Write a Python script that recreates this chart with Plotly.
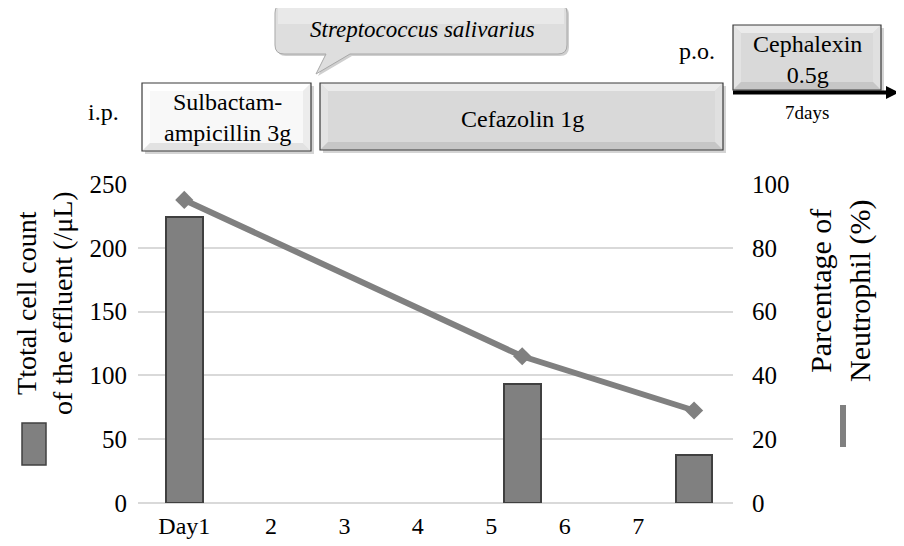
import plotly.graph_objects as go

# ---------------- data ----------------
days = [0.82, 5.42, 7.76]                 # measurement positions on the day axis
cell_count = [224, 93, 38]                # total cell count of the effluent (/uL)
neutrophil = [95, 46, 29]                 # percentage of neutrophil (%)
tick_days = [days[0], 2, 3, 4, 5, 6, 7]
tick_text = ["Day1", "2", "3", "4", "5", "6", "7"]
left_ticks = [0, 50, 100, 150, 200, 250]
right_ticks = [0, 20, 40, 60, 80, 100]

W, H = 904, 546
OFF = 8  # page body margin of the html page
FONT = "Liberation Serif"


def X(p):
    return (p - OFF) / W


def Y(p):
    return 1 - (p - OFF) / H


fig = go.Figure()
fig.add_bar(
    x=days, y=cell_count, width=0.5, yaxis="y",
    marker=dict(color="#808080", line=dict(color="#404040", width=2)),
)
fig.add_scatter(
    x=days, y=neutrophil, yaxis="y2", mode="lines+markers",
    line=dict(color="#808080", width=6),
    marker=dict(symbol="diamond", size=14, color="#808080"),
)

shapes = []


def rect(x0, y0, x1, y1, fill, line_color=None, lw=0):
    shapes.append(dict(
        type="rect", xref="paper", yref="paper",
        x0=X(x0), x1=X(x1), y0=Y(y1), y1=Y(y0),
        fillcolor=fill, line=dict(color=line_color or fill, width=lw),
        layer="above",
    ))


def poly(pts, fill):
    d = "M " + " L ".join(f"{X(a):.5f},{Y(b):.5f}" for a, b in pts) + " Z"
    shapes.append(dict(type="path", xref="paper", yref="paper", path=d,
                       fillcolor=fill, line=dict(width=0), layer="above"))


def bevel_box(x0, y0, x1, y1, base, light, lighter, dark, darker, inset=8):
    rect(x0 + 3, y0 + 3, x1 + 3, y1 + 3, "#d4d4d4")
    rect(x0, y0, x1, y1, base)
    i = inset
    poly([(x0, y0), (x1, y0), (x1 - i, y0 + i), (x0 + i, y0 + i)], lighter)
    poly([(x0, y0), (x0 + i, y0 + i), (x0 + i, y1 - i), (x0, y1)], light)
    poly([(x1, y0), (x1, y1), (x1 - i, y1 - i), (x1 - i, y0 + i)], dark)
    poly([(x0, y1), (x0 + i, y1 - i), (x1 - i, y1 - i), (x1, y1)], darker)
    shapes.append(dict(type="rect", xref="paper", yref="paper",
                       x0=X(x0), x1=X(x1), y0=Y(y1), y1=Y(y0),
                       fillcolor="rgba(0,0,0,0)",
                       line=dict(color="#3a3a3a", width=1.2), layer="above"))


# treatment boxes
bevel_box(142, 83, 311, 151, "#f8f8f8", "#fdfdfd", "#ffffff", "#ececec", "#e2e2e2")
bevel_box(320, 83, 723, 150, "#d9d9d9", "#e3e3e3", "#ebebeb", "#e0e0e0", "#c6c6c6")
bevel_box(733, 25, 881, 90, "#d9d9d9", "#e3e3e3", "#ebebeb", "#e0e0e0", "#c6c6c6")


def callout_path(x0, y0, x1, y1, r, dx=0, dy=0):
    pts = [
        (x0 + r, y0), (x1 - r, y0), ("Q", x1, y0, x1, y0 + r), (x1, y1 - r),
        ("Q", x1, y1, x1 - r, y1), (350, y1), (316, 74), (326, y1), (x0 + r, y1),
        ("Q", x0, y1, x0, y1 - r), (x0, y0 + r), ("Q", x0, y0, x0 + r, y0),
    ]
    parts = []
    for k, p in enumerate(pts):
        if p[0] == "Q":
            parts.append(f"Q {X(p[1] + dx):.5f},{Y(p[2] + dy):.5f} "
                         f"{X(p[3] + dx):.5f},{Y(p[4] + dy):.5f}")
        else:
            parts.append(("M " if k == 0 else "L ")
                         + f"{X(p[0] + dx):.5f},{Y(p[1] + dy):.5f}")
    return " ".join(parts) + " Z"


shapes.append(dict(type="path", xref="paper", yref="paper",
                   path=callout_path(275, 4, 567, 54, 9, 2, 2),
                   fillcolor="#cfcfcf", line=dict(width=0), layer="above"))
shapes.append(dict(type="path", xref="paper", yref="paper",
                   path=callout_path(275, 4, 567, 54, 9),
                   fillcolor="#dedede", line=dict(color="#a8a8a8", width=1),
                   layer="above"))
# light upper band of the callout gradient
shapes.append(dict(type="rect", xref="paper", yref="paper",
                   x0=X(278), x1=X(564), y0=Y(24), y1=Y(6),
                   fillcolor="rgba(255,255,255,0.35)", line=dict(width=0),
                   layer="above"))

# arrow for oral therapy
shapes.append(dict(type="line", xref="paper", yref="paper",
                   x0=X(733), x1=X(888), y0=Y(92.5), y1=Y(92.5),
                   line=dict(color="#000000", width=4), layer="above"))
poly([(886, 86), (899, 92.5), (886, 99)], "#000000")

# legend keys next to axis titles
shapes.append(dict(type="rect", xref="paper", yref="paper",
                   x0=X(22), x1=X(46), y0=Y(465), y1=Y(423),
                   fillcolor="#808080", line=dict(color="#404040", width=1.5)))
shapes.append(dict(type="rect", xref="paper", yref="paper",
                   x0=X(840), x1=X(846), y0=Y(447), y1=Y(405),
                   fillcolor="#808080", line=dict(width=0)))

ann = []


def text(t, x, y, size, italic=False, angle=0):
    ann.append(dict(
        text=t, x=X(x), y=Y(y), xref="paper", yref="paper",
        xanchor="center", yanchor="middle", showarrow=False, textangle=angle,
        font=dict(family=FONT, size=size, color="#000000",
                  style="italic" if italic else "normal"),
    ))


text("i.p.", 103, 112, 24)
text("Sulbactam-<br>ampicillin 3g", 227, 118, 24)
text("Cefazolin 1g", 522, 119, 24)
text("Streptococcus salivarius", 422, 30, 23, italic=True)
text("p.o.", 697, 51, 24)
text("Cephalexin<br>0.5g", 807, 59, 24)
text("7days", 807, 113, 19)
text("Ttotal cell count<br>of the effluent (/μL)", 44, 303, 28, angle=-90)
text("Parcentage of<br>Neutrophil (%)", 840, 291, 30, angle=-90)

fig.update_layout(
    width=W, height=H, margin=dict(l=0, r=0, t=0, b=0, pad=0),
    paper_bgcolor="white", plot_bgcolor="white", showlegend=False,
    font=dict(family=FONT, color="#000000"),
    bargap=0,
    xaxis=dict(domain=[X(138), X(733)], range=[0.19, 8.29], automargin=False,
               tickvals=tick_days, ticktext=tick_text, showgrid=False,
               zeroline=False, showline=False, ticks="",
               tickfont=dict(family=FONT, size=24), ticklabelstandoff=6),
    yaxis=dict(domain=[Y(503), Y(184)], range=[0, 250], tickvals=left_ticks,
               automargin=False,
               showgrid=True, gridcolor="#d9d9d9", gridwidth=1.5,
               zeroline=True, zerolinecolor="#d9d9d9", zerolinewidth=1.5,
               showline=False, ticks="", tickfont=dict(family=FONT, size=25),
               ticklabelstandoff=10),
    yaxis2=dict(overlaying="y", side="right", anchor="x", range=[0, 100],
                automargin=False,
                tickvals=right_ticks, showgrid=False, zeroline=False,
                showline=False, ticks="", tickfont=dict(family=FONT, size=25),
                ticklabelstandoff=18),
    shapes=shapes, annotations=ann,
)

fig.write_html("out.html")
